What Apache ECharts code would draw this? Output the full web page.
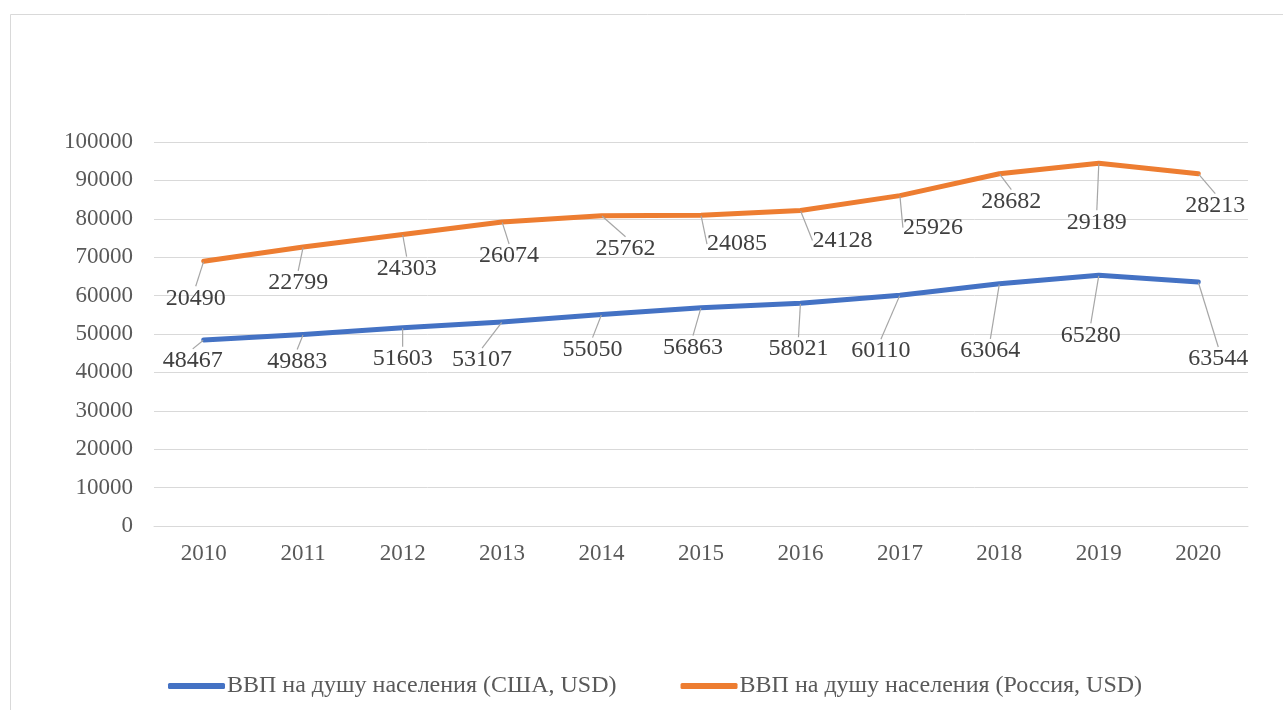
<!DOCTYPE html>
<html>
<head>
<meta charset="utf-8">
<script src="https://cdn.jsdelivr.net/npm/echarts@6/dist/echarts.min.js"></script>
<style>
  html, body { margin: 0; padding: 0; background: #fff; }
  #chart { width: 1283px; height: 710px; }
</style>
</head>
<body>
<div id="chart"></div>
<script>
const years = ["2010", "2011", "2012", "2013", "2014", "2015", "2016", "2017", "2018", "2019", "2020"];
const usaGdp = [48467, 49883, 51603, 53107, 55050, 56863, 58021, 60110, 63064, 65280, 63544];
const russiaGdp = [20490, 22799, 24303, 26074, 25762, 24085, 24128, 25926, 28682, 29189, 28213];
const yTicks = { min: 0, max: 100000, step: 10000 };

// label offsets from the point (px), Excel-style leader-line placement
const usaLabelShift = [[-11, 21], [-6, 27], [0, 31], [-20, 38], [-9, 35], [-8, 40], [-2, 46], [-19, 56], [-9, 67], [-8, 60], [20, 77]];
const rusLabelShift = [[-8, 37], [-5, 36], [4, 34], [7, 34], [24, 33], [36, 29], [42, 30], [33, 32], [12, 28], [-2, 59], [17, 32]];

const FONT = "'Liberation Serif', 'Times New Roman', serif";
const BLUE = "#4472C4";
const ORANGE = "#ED7D31";

function shiftLayout(shifts) {
  return (p) => {
    const s = shifts[p.dataIndex] || [0, 0];
    return {
      x: p.rect.x + p.rect.width / 2 + s[0],
      y: p.rect.y + p.rect.height / 2 + s[1],
      align: "center",
      verticalAlign: "middle",
    };
  };
}

function lineSeries(name, data, color, shifts) {
  return {
    name,
    type: "line",
    stack: "gdp",
    data,
    symbol: "circle",
    symbolSize: 1,
    showSymbol: true,
    itemStyle: { color },
    lineStyle: { color, width: 5, cap: "round", join: "round" },
    label: {
      show: true,
      color: "#404040",
      fontSize: 24,
      fontFamily: FONT,
    },
    labelLine: {
      show: true,
      lineStyle: { color: "#A6A6A6", width: 1.2 },
    },
    labelLayout: shiftLayout(shifts),
    emphasis: { disabled: true },
  };
}

const chart = echarts.init(document.getElementById("chart"), null, { renderer: "canvas" });

chart.setOption({
  backgroundColor: "#fff",
  animation: false,
  graphic: [
    {
      type: "rect",
      shape: { x: 10.5, y: 14.5, width: 1300, height: 720 },
      style: { fill: "none", stroke: "#D9D9D9", lineWidth: 1 },
      silent: true,
      z: -10,
    },
  ],
  grid: { left: 154, right: 35, top: 142, bottom: 184, outerBoundsMode: "none" },
  legend: {
    left: 168,
    top: 674,
    padding: 0,
    itemWidth: 57,
    itemHeight: 6,
    itemGap: 64,
    icon: "roundRect",
    textStyle: { color: "#595959", fontSize: 24, fontFamily: FONT, padding: [0, 0, 0, -3] },
    data: ["ВВП на душу населения (США, USD)", "ВВП на душу населения (Россия, USD)"],
  },
  xAxis: {
    type: "category",
    data: years,
    boundaryGap: true,
    axisLine: { lineStyle: { color: "#D9D9D9", width: 1 } },
    axisTick: { show: false },
    axisLabel: { color: "#595959", fontSize: 23, fontFamily: FONT, margin: 16 },
  },
  yAxis: {
    type: "value",
    min: yTicks.min,
    max: yTicks.max,
    interval: yTicks.step,
    axisLine: { show: false },
    axisTick: { show: false },
    splitLine: { lineStyle: { color: "#D9D9D9", width: 1 } },
    axisLabel: { color: "#595959", fontSize: 23, fontFamily: FONT, margin: 21, formatter: (v) => String(v) },
  },
  series: [
    lineSeries("ВВП на душу населения (США, USD)", usaGdp, BLUE, usaLabelShift),
    lineSeries("ВВП на душу населения (Россия, USD)", russiaGdp, ORANGE, rusLabelShift),
  ],
});
</script>
</body>
</html>
